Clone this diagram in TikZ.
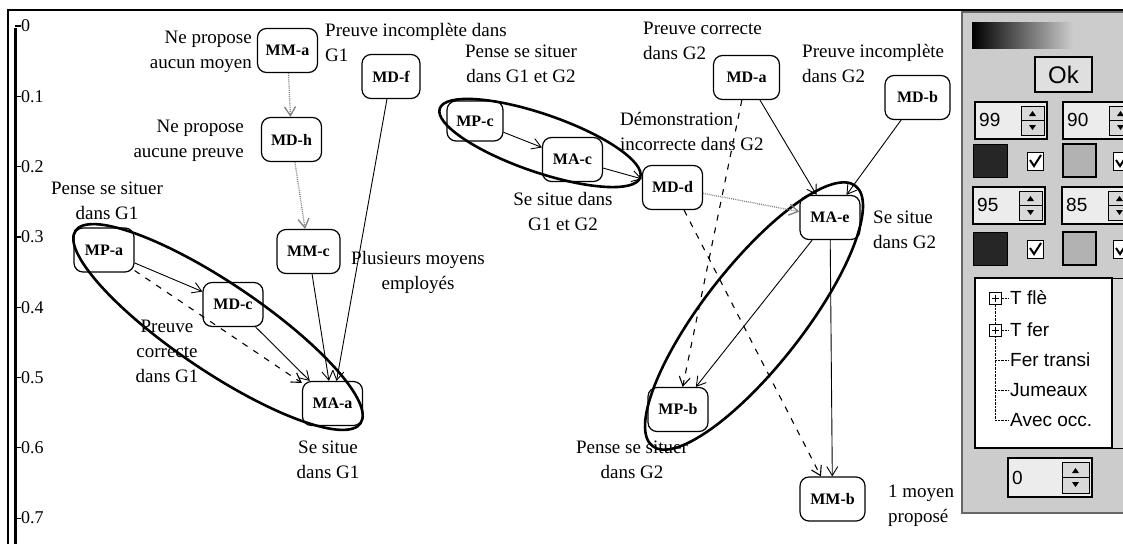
\documentclass[tikz,border=0pt]{standalone}
\usepackage{fontspec}
\setmainfont{Liberation Serif}
\newfontfamily\panelfont{Liberation Sans}
\usetikzlibrary{arrows.meta,shapes.geometric}

\newcommand{\lblfont}{\fontsize{19}{25}\selectfont}
\newcommand{\boxfont}{\fontsize{16}{18}\selectfont\bfseries}

\begin{document}
\begin{tikzpicture}[
    x=1pt, y=-1pt,
    box/.style={rectangle, rounded corners=9pt, draw, line width=1.2pt, minimum width=60pt, minimum height=44pt, inner sep=1pt, font=\boxfont},
    lbl/.style={font=\lblfont, align=center, inner sep=0pt},
    lbll/.style={lbl, align=left, anchor=west},
    lblr/.style={lbl, align=right, anchor=east},
    arrow/.style={-{Straight Barb[length=9pt, width=11pt]}, line width=0.9pt},
    dotarrow/.style={arrow, gray, densely dotted, line width=1.3pt},
    dasharrow/.style={arrow, dash pattern=on 6pt off 7pt, line width=1.1pt},
    group/.style={ellipse, draw, line width=2.6pt, inner sep=0pt},
    tick/.style={font=\fontsize{18}{20}\selectfont, anchor=west, inner sep=1pt},
    paneltext/.style={font=\panelfont\fontsize{19}{22}\selectfont, inner sep=0pt, anchor=west}
]
\useasboundingbox (0,0) rectangle (1123,544);

% Frame and scale
\draw[line width=2pt] (8,544) -- (8,10) -- (1123,10);
\draw[line width=3pt] (15,28) -- (15,544);
\foreach \k/\v in {0/0, 1/0.1, 2/0.2, 3/0.3, 4/0.4, 5/0.5, 6/0.6, 7/0.7} {
  \draw[line width=1.2pt] (15,{26+70.3*\k}) -- (21,{26+70.3*\k});
  \node[tick] (tick\k) at (20,{26+70.3*\k}) {\v};
}

% Groups
\node[group, minimum width=344pt, minimum height=88pt, rotate=-34] (grp1) at (218,327) {};
\node[group, minimum width=212pt, minimum height=58pt, rotate=-19] (grp2) at (540,143) {};
\node[group, minimum width=330pt, minimum height=100pt, rotate=52] (grp3) at (754,316) {};

% Left part
\node[box] (MMa) at (287.5,50.5) {MM-a};
\node[box] (MDh) at (291.5,139.5) {MD-h};
\node[box, minimum width=58pt] (MDf) at (391,76.5) {MD-f};
\node[box] (MPa) at (104,250) {MP-a};
\node[box] (MDc) at (233,304.5) {MD-c};
\node[box, minimum width=63pt] (MMc) at (308.5,251.5) {MM-c};
\node[box] (MAa) at (332.5,403.5) {MA-a};

\node[lblr] (lMMa) at (252,52) {Ne propose\\aucun moyen};
\node[lblr] (lMDh) at (244,141) {Ne propose\\aucune preuve};
\node[lbll] (lMDf) at (325,42) {Preuve incomplète dans\\G1};
\node[lbl] (lMPa) at (107,201) {Pense se situer\\dans G1};
\node[lbl] (lMMc) at (418,272) {Plusieurs moyens\\employés};
\node[lbl] (lMDc) at (167,351) {Preuve\\correcte\\dans G1};
\node[lbl] (lMAa) at (328,460) {Se situe\\dans G1};

\draw[dotarrow] (MMa) -- (MDh);
\draw[dotarrow] (MDh) -- (MMc);
\draw[arrow] (MPa) -- (MDc);
\draw[dasharrow] (MPa) -- (MAa);
\draw[arrow] (MDc) -- (MAa);
\draw[arrow] (MMc) -- (MAa);
\draw[arrow] (MDf) -- (MAa);

% Middle part
\node[box, minimum width=56pt, minimum height=40pt] (MPc) at (475,121) {MP-c};
\node[box] (MAc) at (572.5,159.5) {MA-c};
\node[box] (MDd) at (672.5,187.5) {MD-d};

\node[lbl] (lMPc) at (521,64) {Pense se situer\\dans G1 et G2};
\node[lbl] (lMAc) at (563,211) {Se situe dans\\G1 et G2};
\node[lbll] (lMDd) at (620,131) {Démonstration\\incorrecte dans G2};

\draw[arrow] (MPc) -- (MAc);
\draw[arrow] (MAc) -- (MDd);

% Right part
\node[box, minimum width=66pt] (MDa) at (746.5,77.5) {MD-a};
\node[box, minimum width=65pt] (MDb) at (917.5,97.5) {MD-b};
\node[box] (MAe) at (830,217.5) {MA-e};
\node[box] (MPb) at (678,409.5) {MP-b};
\node[box, minimum width=65pt] (MMb) at (832.5,499) {MM-b};

\node[lbll] (lMDa) at (643,41) {Preuve correcte\\dans G2};
\node[lbll] (lMDb) at (802,63) {Preuve incomplète\\dans G2};
\node[lbll] (lMAe) at (873,230) {Se situe\\dans G2};
\node[lbl] (lMPb) at (632,460) {Pense se situer\\dans G2};
\node[lbll] (lMMb) at (888,506) {1 moyen\\proposé};

\draw[dotarrow] (MDd) -- (MAe);
\draw[arrow] (MDa) -- (MAe);
\draw[arrow] (MDb) -- (MAe);
\draw[arrow] (MAe) -- (MPb);
\draw[arrow] (MAe) -- (MMb);
\draw[dasharrow] (MDa) -- (MPb);
\draw[dasharrow] (MDd) -- (MMb);

% Settings panel
\draw[fill=gray!40, draw=black!60, line width=1.2pt] (962,12) rectangle (1130,513);
\shade[left color=black, right color=gray!40] (972,22) rectangle (1073,48);
\node[draw, line width=1.8pt, fill=gray!25, minimum width=57pt, minimum height=35pt, font=\panelfont\fontsize{24}{26}\selectfont] (ok) at (1063.5,74.5) {Ok};
\foreach \val/\cx/\cy in {99/975/102, 90/1063/102, 95/973/187, 85/1062/187} {
  \draw[fill=gray!15, line width=1.2pt] (\cx,\cy) rectangle ++(72,37);
  \node[paneltext] (f\val) at (\cx+4,\cy+18) {\val};
  \draw[fill=gray!30] (\cx+46,\cy+4) rectangle (\cx+69,\cy+33);
  \draw (\cx+46,\cy+18.5) -- (\cx+69,\cy+18.5);
  \fill (\cx+54,\cy+14) -- (\cx+61,\cy+14) -- (\cx+57.5,\cy+9) -- cycle;
  \fill (\cx+54,\cy+23) -- (\cx+61,\cy+23) -- (\cx+57.5,\cy+28) -- cycle;
}
\foreach \cy in {144, 232} {
  \draw[fill=black!85] (973,\cy) rectangle ++(34,33);
  \draw[fill=gray!60, line width=1.2pt] (1063,\cy) rectangle ++(33,33);
  \foreach \bx in {1027, 1113} {
    \draw[fill=white, line width=1pt] (\bx,\cy+8) rectangle ++(16,18);
    \draw[line width=2pt] (\bx+3,\cy+16) -- (\bx+7,\cy+22) -- (\bx+14,\cy+11);
  }
}
\draw[fill=white, line width=1.5pt] (975,278) rectangle (1112,448);
\draw[fill=gray!30] (1112,278) rectangle (1130,448);
\draw[densely dotted] (995,305) -- (995,420);
\foreach \iy/\txt [count=\i] in {298/T flè, 330/T fer, 360/Fer transi, 390/Jumeaux, 420/Avec occ.} {
  \draw[densely dotted] (995,\iy) -- (1008,\iy);
  \node[paneltext] (item\i) at (1010,\iy) {\txt};
}
\foreach \iy in {298, 330} {
  \draw[fill=white] (989,\iy-6) rectangle (1001,\iy+6);
  \draw (991.5,\iy) -- (998.5,\iy) (995,\iy-3.5) -- (995,\iy+3.5);
}
\draw[fill=gray!15, line width=1.2pt] (1008,458) rectangle (1092,497);
\node[paneltext] (fzero) at (1012,477.5) {0};
\draw[fill=gray!30] (1062,462) rectangle (1089,493);
\draw (1062,477.5) -- (1089,477.5);
\fill (1072,473) -- (1079,473) -- (1075.5,468) -- cycle;
\fill (1072,482) -- (1079,482) -- (1075.5,487) -- cycle;

\end{tikzpicture}
\end{document}
